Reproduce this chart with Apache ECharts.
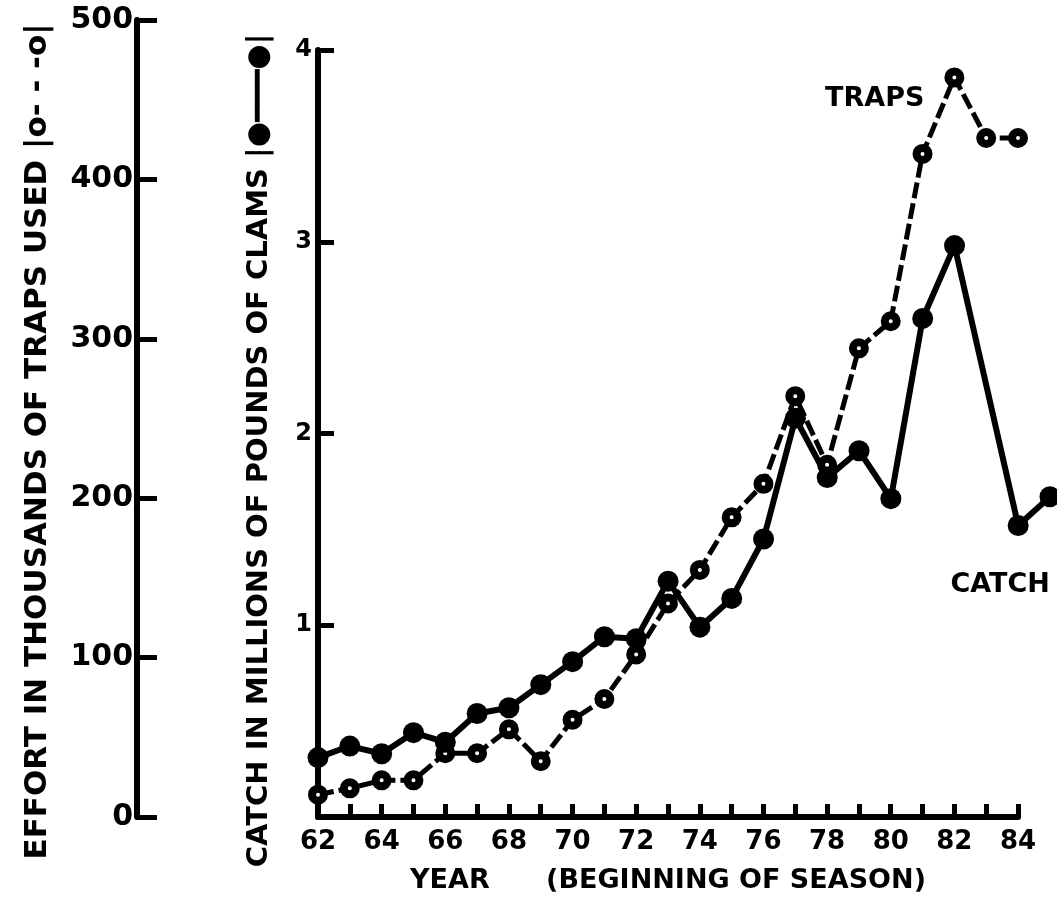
<!DOCTYPE html>
<html lang="en">
<head>
<meta charset="UTF-8">
<title>Traps and catch by season</title>
<script src="https://cdn.jsdelivr.net/npm/echarts@6/dist/echarts.min.js"></script>
<style>
  html, body { margin: 0; padding: 0; background: #fff; }
  #chart { width: 1057px; height: 902px; }
</style>
</head>
<body>
<div id="chart"></div>
<script>
// season start years (19xx); no catch marker is visible at 83
var catchYears = [62, 63, 64, 65, 66, 67, 68, 69, 70, 71, 72, 73, 74, 75, 76, 77, 78, 79, 80, 81, 82, 84, 85];
// catch, millions of pounds of claws
var catchValues = [0.31, 0.37, 0.33, 0.44, 0.39, 0.54, 0.57, 0.69, 0.81, 0.94, 0.93, 1.23, 0.99, 1.14, 1.45, 2.08, 1.77, 1.91, 1.66, 2.60, 2.98, 1.52, 1.67];

var trapYears = [62, 63, 64, 65, 66, 67, 68, 69, 70, 71, 72, 73, 74, 75, 76, 77, 78, 79, 80, 81, 82, 83, 84];
// effort, thousands of traps
var trapValues = [14, 18, 23, 23, 40, 40, 55, 35, 61, 74, 102, 134, 155, 188, 209, 264, 221, 294, 311, 416, 464, 426, 426];

var yearLabels = [62, 64, 66, 68, 70, 72, 74, 76, 78, 80, 82, 84];
var catchTicks = [1, 2, 3, 4];

var FONT = 'DejaVu Sans';

var chart = echarts.init(document.getElementById('chart'));

var catchData = catchYears.map(function (y, i) {
    var item = { value: [y, catchValues[i]] };
    if (y === 84) {
        item.label = {
            show: true, formatter: 'CATCH', position: 'bottom', distance: 35, offset: [-18, 0],
            color: '#000', fontFamily: FONT, fontWeight: 'bold', fontSize: 27
        };
    }
    return item;
});

var trapData = trapYears.map(function (y, i) {
    var item = { value: [y, trapValues[i]] };
    if (y === 82) {
        item.label = {
            show: true, formatter: 'TRAPS', position: 'left', distance: 20, offset: [0, 22],
            color: '#000', fontFamily: FONT, fontWeight: 'bold', fontSize: 27
        };
    }
    return item;
});

var axisText = { color: '#000', fontFamily: FONT, fontWeight: 'bold' };

var option = {
    animation: false,
    backgroundColor: '#fff',
    grid: [
        // catch grid runs one season further than the drawn year axis
        { left: 318, right: 7, top: 50, bottom: 85 },
        // effort grid carries the visible year axis (62-84)
        { left: 318, right: 39, top: 20, bottom: 85 }
    ],
    xAxis: [
        { gridIndex: 0, type: 'value', min: 62, max: 85, show: false },
        {
            gridIndex: 1, type: 'value', min: 62, max: 84, interval: 1,
            axisLine: { lineStyle: { color: '#000', width: 6 } },
            axisTick: { inside: true, length: 13, lineStyle: { color: '#000', width: 5 } },
            splitLine: { show: false },
            axisLabel: Object.assign({
                fontSize: 26, margin: 12,
                formatter: function (v) { return yearLabels.indexOf(v) >= 0 ? String(v) : ''; }
            }, axisText),
            name: 'YEAR      (BEGINNING OF SEASON)',
            nameLocation: 'middle', nameGap: 50,
            nameTextStyle: Object.assign({ fontSize: 27 }, axisText)
        }
    ],
    yAxis: [
        {
            gridIndex: 0, type: 'value', min: 0, max: 4, interval: 1,
            axisLine: { show: true, lineStyle: { color: '#000', width: 6 } },
            axisTick: { show: true, inside: true, length: 16, lineStyle: { color: '#000', width: 5 } },
            splitLine: { show: false },
            axisLabel: Object.assign({
                fontSize: 24, margin: 6,
                formatter: function (v) { return catchTicks.indexOf(v) >= 0 ? String(v) : ''; }
            }, axisText),
            name: 'CATCH IN MILLIONS OF POUNDS OF CLAMS {s|\u007c\u25CF\u2501\u2501\u2501\u25CF\u007c}',
            nameLocation: 'middle', nameRotate: 90, nameGap: 44,
            nameTextStyle: Object.assign({
                fontSize: 29, padding: [0, 34, 0, 0],
                rich: { s: { fontSize: 29, fontFamily: FONT, fontWeight: 'bold', color: '#000' } }
            }, axisText)
        },
        {
            gridIndex: 1, type: 'value', min: 0, max: 500, interval: 100, offset: 181,
            axisLine: { show: true, lineStyle: { color: '#000', width: 6 } },
            axisTick: { show: true, inside: true, length: 20, lineStyle: { color: '#000', width: 5 } },
            splitLine: { show: false },
            axisLabel: Object.assign({ fontSize: 30, margin: 4 }, axisText),
            name: 'EFFORT IN THOUSANDS OF TRAPS USED {s|\u007co- - -o\u007c}',
            nameLocation: 'middle', nameRotate: 90, nameGap: 84,
            nameTextStyle: Object.assign({
                fontSize: 31, padding: [0, 46, 0, 0],
                rich: { s: { fontSize: 31, fontFamily: FONT, fontWeight: 'bold', color: '#000' } }
            }, axisText)
        }
    ],
    series: [
        {
            name: 'Traps', type: 'line', xAxisIndex: 1, yAxisIndex: 1, clip: false,
            data: trapData,
            symbol: 'circle', symbolSize: 12,
            itemStyle: { color: '#fff', borderColor: '#000', borderWidth: 8 },
            lineStyle: { color: '#000', width: 5, type: [16, 5] },
            z: 2
        },
        {
            name: 'Catch', type: 'line', xAxisIndex: 0, yAxisIndex: 0, clip: false,
            data: catchData,
            symbol: 'circle', symbolSize: 21,
            itemStyle: { color: '#000' },
            lineStyle: { color: '#000', width: 6 },
            z: 3
        }
    ]
};

chart.setOption(option);
</script>
</body>
</html>
